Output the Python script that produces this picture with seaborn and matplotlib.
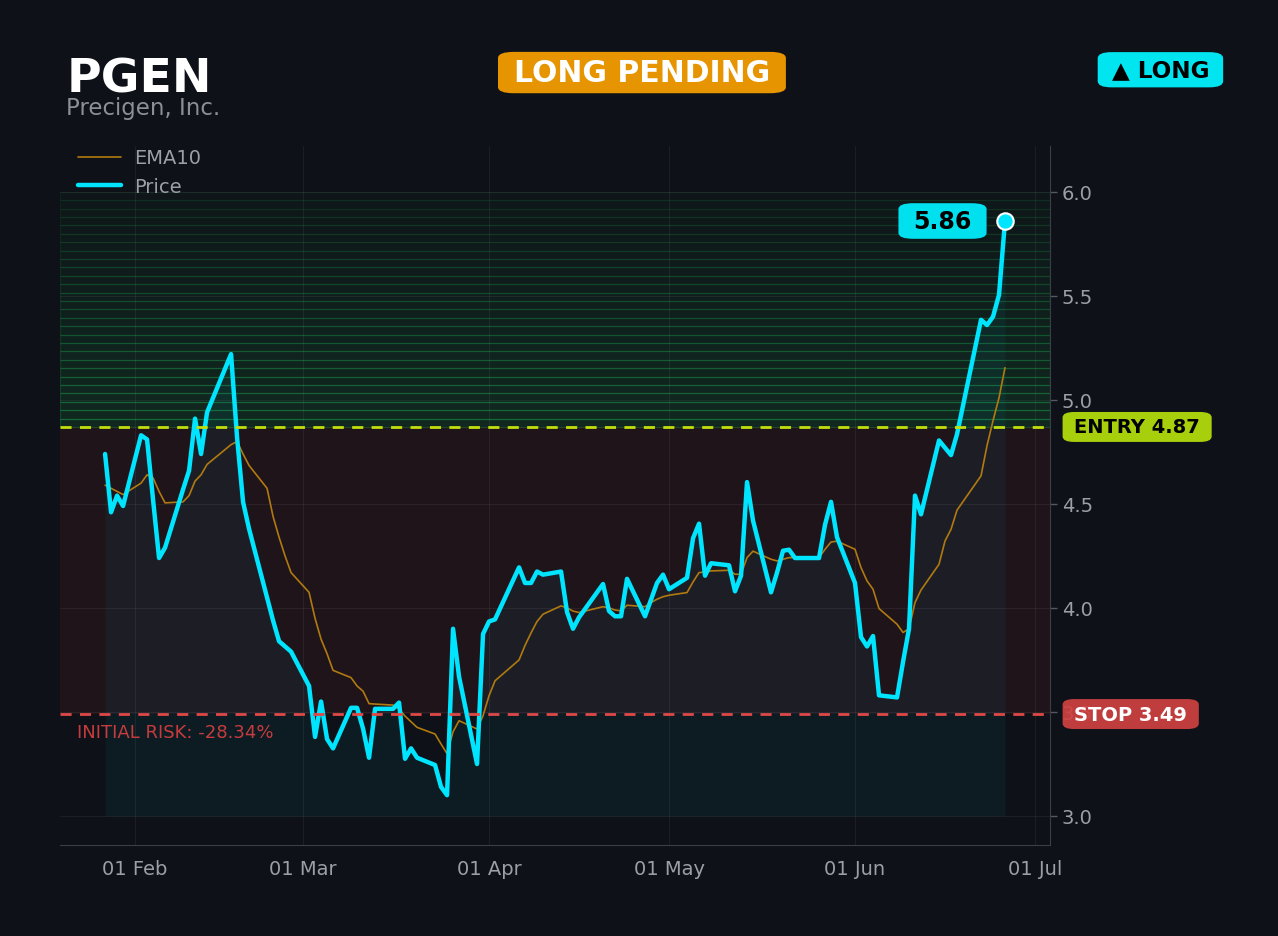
import numpy as np
import pandas as pd
import matplotlib
matplotlib.use("Agg")
import matplotlib.pyplot as plt
import matplotlib.dates as mdates
from matplotlib.colors import to_rgba
import seaborn as sns

# --- data --------------------------------------------------------------------
ticker = "PGEN"
company = "Precigen, Inc."
entry_price = 4.87
stop_price = 3.49
holidays = ["2026-02-16", "2026-04-03", "2026-05-25", "2026-06-19"]
dates = pd.bdate_range("2026-01-27", "2026-06-26", freq="C", holidays=holidays)

price = [
    4.74, 4.46, 4.54, 4.49,
    4.83, 4.81, 4.52, 4.24, 4.29, 4.57, 4.66, 4.91, 4.74, 4.94, 5.22, 4.82, 4.51, 4.38,
    4.05, 3.94, 3.84, 3.815, 3.79,
    3.625, 3.38, 3.55, 3.37, 3.325, 3.52, 3.52, 3.42, 3.28, 3.515, 3.515, 3.545, 3.275,
    3.325, 3.28, 3.245, 3.14, 3.10, 3.90, 3.67, 3.25, 3.875,
    3.935, 3.945, 4.195, 4.12, 4.12, 4.175, 4.16, 4.175, 3.98, 3.90, 3.955, 3.995,
    4.115, 3.985, 3.96, 3.96, 4.14, 3.96, 4.04, 4.12, 4.16,
    4.09, 4.145, 4.335, 4.405, 4.155, 4.215, 4.205, 4.08, 4.155, 4.605, 4.42,
    4.075, 4.17, 4.275, 4.28, 4.24, 4.24, 4.40, 4.51, 4.34,
    4.12, 3.86, 3.815, 3.865, 3.58, 3.57, 3.74, 3.90, 4.54, 4.45, 4.805, 4.77,
    4.735, 4.835, 5.385, 5.36, 5.40, 5.505, 5.86,
]
ema10 = [
    4.59, 4.575, 4.56, 4.545,
    4.60, 4.64, 4.625, 4.56, 4.505, 4.51, 4.54, 4.61, 4.64, 4.69, 4.785, 4.80, 4.74, 4.685,
    4.575, 4.44, 4.34, 4.25, 4.17,
    4.075, 3.95, 3.85, 3.78, 3.70, 3.665, 3.625, 3.60, 3.54, 3.538, 3.533, 3.514, 3.48,
    3.453, 3.426, 3.394, 3.346, 3.30, 3.405, 3.458, 3.418, 3.482,
    3.578, 3.65, 3.75, 3.82, 3.88, 3.935, 3.97, 4.01, 4.0, 3.985, 3.978, 3.985,
    4.006, 4.0, 3.99, 3.986, 4.013, 4.006, 4.026, 4.042, 4.054,
    4.061, 4.074, 4.125, 4.17, 4.173, 4.178, 4.181, 4.162, 4.162, 4.242, 4.273,
    4.234, 4.226, 4.234, 4.242, 4.242, 4.242, 4.282, 4.317, 4.321,
    4.282, 4.194, 4.13, 4.09, 3.997, 3.922, 3.882, 3.90, 4.026, 4.086, 4.21, 4.322,
    4.378, 4.47, 4.635, 4.78, 4.90, 5.01, 5.155,
]
y_ticks = [3.0, 3.5, 4.0, 4.5, 5.0, 5.5, 6.0]

df = pd.DataFrame({"date": dates, "price": price, "ema10": ema10})

# --- colours -----------------------------------------------------------------
BG = "#0e1117"
CYAN = "#00e5ff"
EMA_C = "#b07a10"
ENTRY_C = "#c2de0c"
STOP_C = "#e04848"
GRAY = "#9aa0a6"
GREEN = "#22c55e"

sns.set_style("dark", {"axes.facecolor": BG, "figure.facecolor": BG})
plt.rcParams["font.family"] = ["DejaVu Sans"]

fig = plt.figure(figsize=(12.78, 9.37), dpi=100)
ax = fig.add_axes([0.047, 0.097, 0.7746, 0.746])
ax.set_facecolor(BG)

# target zone (stacked bands) and risk zone
top_zone = max(y_ticks)
n_bands = 28
edges = np.linspace(entry_price, top_zone, n_bands + 1)
face_a = np.linspace(0.13, 0.03, n_bands)
edge_a = np.linspace(0.24, 0.07, n_bands)
for lo, hi, fa, ea in zip(edges[:-1], edges[1:], face_a, edge_a):
    ax.axhspan(lo, hi, fc=to_rgba(GREEN, fa), ec=to_rgba(GREEN, ea), lw=0.9, zorder=0)
ax.axhspan(stop_price, entry_price, color="#ef4444", alpha=0.08, lw=0, zorder=0)

# area under price
ax.fill_between(df["date"], df["price"], min(y_ticks), color=CYAN, alpha=0.05,
                lw=0, zorder=1)

sns.lineplot(data=df, x="date", y="ema10", ax=ax, color=EMA_C, lw=1.2,
             label="EMA10", zorder=3)
sns.lineplot(data=df, x="date", y="price", ax=ax, color=CYAN, lw=3.2,
             label="Price", zorder=4)

ax.axhline(entry_price, color=ENTRY_C, lw=2, ls=(0, (4, 3)), zorder=5)
ax.axhline(stop_price, color=STOP_C, lw=2, ls=(0, (4, 3)), zorder=5)

# last price marker + label
last_d, last_p = df["date"].iloc[-1], df["price"].iloc[-1]
ax.scatter([last_d], [last_p], s=140, color=CYAN, edgecolor="white", lw=1.5, zorder=6)
ax.annotate(f"{last_p:.2f}", xy=(last_d, last_p), xytext=(-45, 0),
            textcoords="offset points", ha="center", va="center",
            fontsize=17, fontweight="bold", color="black",
            bbox=dict(boxstyle="round,pad=0.63", fc="#00e0ee", ec="none",
                      mutation_aspect=0.39), zorder=7)

# right-side level labels
ytr = ax.get_yaxis_transform()
ax.text(1.0245, entry_price, f"ENTRY {entry_price:.2f}", transform=ytr, ha="left",
        va="center", fontsize=14, fontweight="bold", color="black",
        bbox=dict(boxstyle="round,pad=0.6", fc="#a8cf0c", ec="none",
                  mutation_aspect=0.47),
        clip_on=False, zorder=8)
ax.text(1.0245, stop_price, f"STOP {stop_price:.2f}", transform=ytr, ha="left",
        va="center", fontsize=14, fontweight="bold", color="white",
        bbox=dict(boxstyle="round,pad=0.6", fc="#d04242", ec="none", alpha=0.92,
                  mutation_aspect=0.47),
        clip_on=False, zorder=8)

risk = (stop_price - entry_price) / entry_price * 100
ax.text(0.017, stop_price - 0.085, f"INITIAL RISK: {risk:.2f}%",
        transform=ytr, ha="left", va="center", fontsize=13, color="#c63c3e", zorder=8)

# axes styling
span = df["date"].iloc[-1] - df["date"].iloc[0]
ax.set_xlim(df["date"].iloc[0] - span * 0.05, df["date"].iloc[-1] + span * 0.05)
ax.set_ylim(2.86, 6.22)
ax.set_yticks(y_ticks)
ax.yaxis.tick_right()
ax.xaxis.set_major_locator(mdates.MonthLocator())
ax.xaxis.set_major_formatter(mdates.DateFormatter("%d %b"))
ax.tick_params(colors=GRAY, labelsize=14, length=5, width=1, color="#555a62")
ax.tick_params(axis="x", pad=5)
ax.set_xlabel("")
ax.set_ylabel("")
ax.grid(True, color="#ffffff", alpha=0.06, lw=0.8)
for side in ["left", "top"]:
    ax.spines[side].set_visible(False)
for side in ["right", "bottom"]:
    ax.spines[side].set_visible(True)
    ax.spines[side].set_color("#3a3f47")

ax.legend(loc="upper left", bbox_to_anchor=(0.016, 1.0), frameon=False, fontsize=14,
          labelcolor=GRAY, handlelength=2.2, handletextpad=0.65,
          borderaxespad=0.0, borderpad=0.12)

# header
fig.text(0.052, 0.915, ticker, fontsize=34, fontweight="bold", color="white", va="center")
fig.text(0.052, 0.884, company, fontsize=16.5, color="#8b9096", va="center")
fig.text(0.5023, 0.9215, "LONG PENDING", fontsize=21.5, fontweight="bold", color="white",
         ha="center", va="center",
         bbox=dict(boxstyle="round,pad=0.53", fc="#e69500", ec="none",
                   mutation_aspect=0.39))
fig.text(0.908, 0.9245, "\u25B2 LONG", fontsize=16.7, fontweight="bold", color="black",
         ha="center", va="center",
         bbox=dict(boxstyle="round,pad=0.6", fc="#00e5f0", ec="none",
                   mutation_aspect=0.44))

fig.savefig("out.png", dpi=100, facecolor=BG)
